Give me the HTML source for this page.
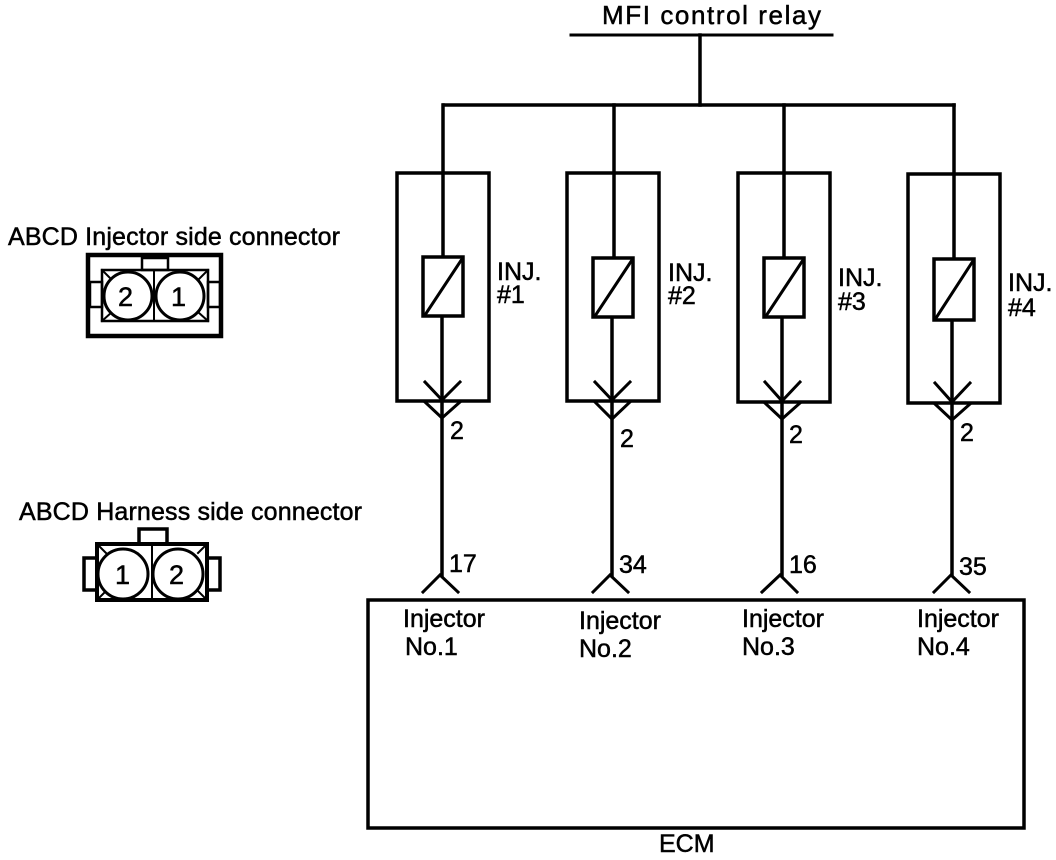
<!DOCTYPE html>
<html>
<head>
<meta charset="utf-8">
<style>
html,body{margin:0;padding:0;background:#fff;}
svg{display:block;}
text{font-family:"Liberation Sans",sans-serif;font-size:25px;fill:#000;stroke:#000;stroke-width:.5px;}
</style>
</head>
<body>
<svg width="1056" height="860" viewBox="0 0 1056 860" xmlns="http://www.w3.org/2000/svg">
<rect width="1056" height="860" fill="#fff"/>
<g fill="none" stroke="#000" stroke-width="3.5" stroke-linecap="square">
  <!-- relay -->
  <path d="M571 35H832" stroke-width="3"/>
  <path d="M700 35V105"/>
  <path d="M444 105H954"/>
  <!-- feeds -->
  <path d="M443 105V257M442 316V575"/>
  <path d="M614 105V258M612 317V575"/>
  <path d="M784 105V258M782 317V575"/>
  <path d="M954 105V258M952 320V575"/>
  <!-- injector boxes -->
  <rect x="397" y="173" width="92" height="228"/>
  <rect x="567" y="173" width="92" height="228"/>
  <rect x="738" y="173" width="92" height="229"/>
  <rect x="908" y="174" width="92" height="229"/>
  <!-- coils -->
  <g fill="#fff">
    <rect x="423" y="257" width="40" height="59"/>
    <rect x="593" y="258" width="40" height="59"/>
    <rect x="764" y="258" width="40" height="59"/>
    <rect x="934" y="259" width="40" height="61"/>
  </g>
  <path d="M425 315L462 259M595 316L632 260M766 316L803 260M936 318L973 261" stroke-width="3"/>
  <!-- connector chevrons -->
  <g stroke-width="3">
    <path d="M425 382L442 400L460 382M425 402L442 418L460 402"/>
    <path d="M595 382L612 400L630 382M595 402L612 419L630 402"/>
    <path d="M765 382L782 401L800 382M765 403L782 419L800 403"/>
    <path d="M935 383L952 402L970 383M935 404L952 420L970 404"/>
    <!-- ECM forks -->
    <path d="M423 592L440 575L458 592"/>
    <path d="M593 592L610 575L628 592"/>
    <path d="M762 592L780 575L797 592"/>
    <path d="M934 592L951 575L969 592"/>
  </g>
  <!-- ECM -->
  <rect x="368" y="600" width="656" height="228"/>
  <!-- Injector side connector -->
  <rect x="88" y="255" width="133" height="81" stroke-width="4.5"/>
  <rect x="102" y="270" width="106" height="51" stroke-width="2.5"/>
  <rect x="142" y="258" width="26" height="12" stroke-width="2.5"/>
  <rect x="90" y="282" width="12" height="25" stroke-width="2.5"/>
  <rect x="208" y="282" width="12" height="25" stroke-width="2.5"/>
  <path d="M154 270V321M102 270L112 280M208 270L198 280M102 321L112 312M208 321L198 312" stroke-width="2"/>
  <circle cx="128" cy="296" r="24" fill="#fff" stroke-width="3"/>
  <circle cx="180" cy="296" r="24" fill="#fff" stroke-width="3"/>
  <!-- Harness side connector -->
  <rect x="97" y="544" width="110" height="56" stroke-width="4"/>
  <rect x="139" y="529" width="28" height="15" stroke-width="3.5"/>
  <rect x="84" y="558" width="13" height="32" stroke-width="3.5"/>
  <rect x="207" y="558" width="13" height="32" stroke-width="3.5"/>
  <path d="M152 544V600M97 544L106 553M207 544L198 553M97 600L106 591M207 600L198 591" stroke-width="2"/>
  <circle cx="123" cy="574" r="25" fill="#fff" stroke-width="3"/>
  <circle cx="178" cy="574" r="25" fill="#fff" stroke-width="3"/>
</g>
<text x="602" y="24" textLength="219" lengthAdjust="spacing" style="font-size:26px">MFI control relay</text>
<text x="8" y="245" textLength="332" lengthAdjust="spacing">ABCD Injector side connector</text>
<text x="19" y="520" textLength="343" lengthAdjust="spacing">ABCD Harness side connector</text>
<text x="118" y="306" style="font-size:27px">2</text>
<text x="171" y="306" style="font-size:27px">1</text>
<text x="115" y="584" style="font-size:27px">1</text>
<text x="169" y="584" style="font-size:27px">2</text>
<text x="497" y="280">INJ.</text><text x="497" y="303">#1</text>
<text x="668" y="281">INJ.</text><text x="668" y="304">#2</text>
<text x="838" y="286">INJ.</text><text x="838" y="310">#3</text>
<text x="1008" y="291">INJ.</text><text x="1008" y="316">#4</text>
<text x="450" y="439">2</text>
<text x="620" y="447">2</text>
<text x="789" y="443">2</text>
<text x="960" y="441">2</text>
<text x="449" y="572">17</text>
<text x="619" y="573">34</text>
<text x="789" y="573">16</text>
<text x="959" y="575">35</text>
<text x="403" y="627">Injector</text><text x="405" y="655">No.1</text>
<text x="579" y="629">Injector</text><text x="579" y="657">No.2</text>
<text x="742" y="627">Injector</text><text x="742" y="655">No.3</text>
<text x="917" y="627">Injector</text><text x="917" y="655">No.4</text>
<text x="659" y="852">ECM</text>
</svg>
</body>
</html>
